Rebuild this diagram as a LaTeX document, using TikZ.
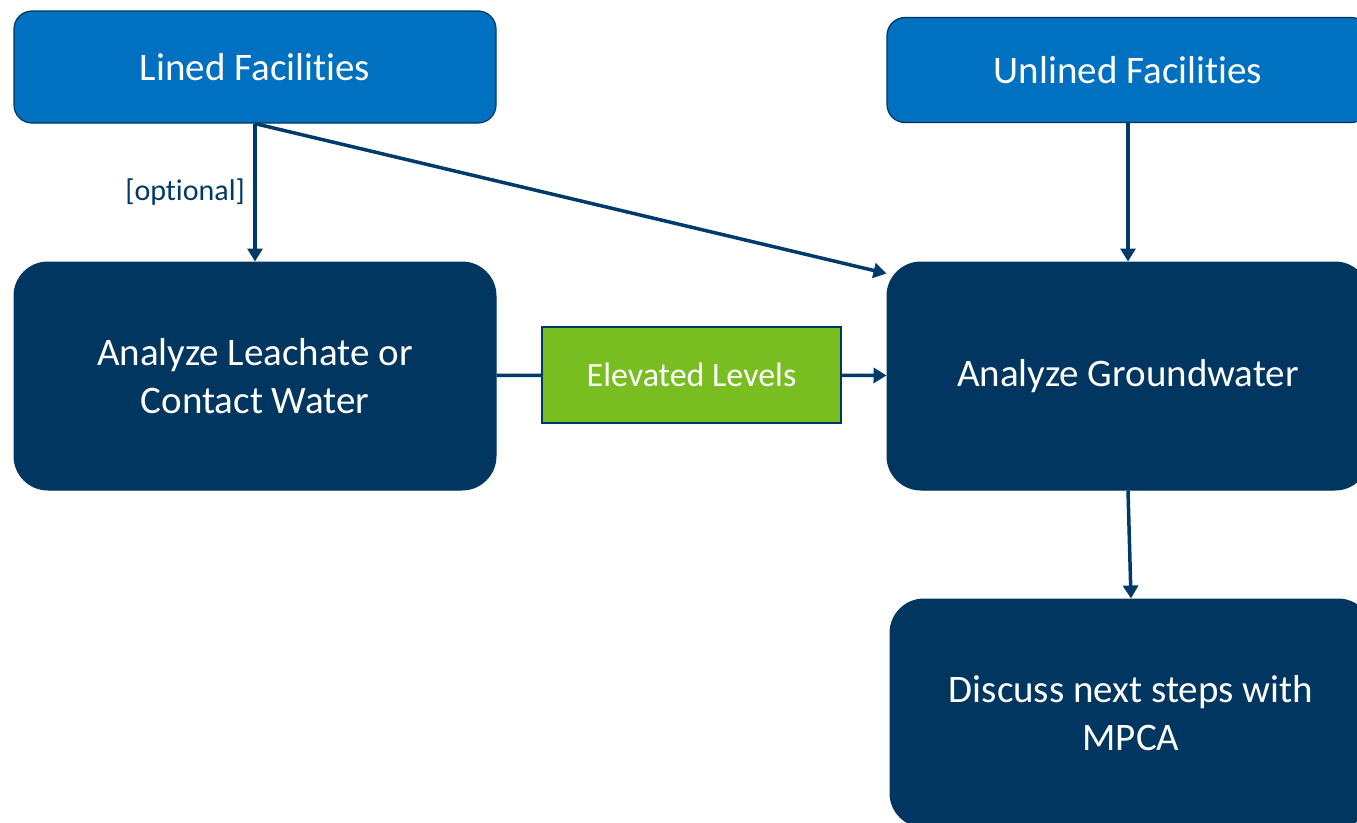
\documentclass[tikz,border=0pt]{standalone}
\usepackage{fontspec}
\setmainfont{Carlito}[Ligatures=NoCommon]
\usetikzlibrary{arrows.meta}
\definecolor{lined}{RGB}{0,112,192}
\definecolor{navy}{RGB}{0,54,96}
\definecolor{flag}{RGB}{120,190,32}
\definecolor{wire}{RGB}{0,58,107}

\tikzset{
  source/.style={draw=navy,line width=1.2pt,fill=lined,rounded corners=18pt,text=white,
    minimum width=482pt,minimum height=112pt,font=\fontsize{39}{47}\selectfont},
  task/.style={draw=navy,line width=1pt,fill=navy,rounded corners=34pt,text=white,align=center,
    minimum width=482pt,minimum height=228pt,font=\fontsize{39}{48}\selectfont},
  flagbox/.style={draw=navy,line width=1.2pt,fill=flag,text=white,
    minimum width=299pt,minimum height=96pt,font=\fontsize{34}{40}\selectfont},
  link/.style={color=wire,line width=3.5pt}
}

\begin{document}
\begin{tikzpicture}[x=1pt,y=-1pt]
\useasboundingbox (0,0) rectangle (1357,822);
\clip (0,0) rectangle (1357,822);
  \node[source] (lined) at (255,67) {Lined Facilities};
  \node[source,minimum height=105pt] (unlined) at (1128,70) {Unlined Facilities};
  \node[task] (leachate) at (255,376) {Analyze Leachate or\\Contact Water};
  \node[flagbox] (elevated) at (691.5,375) {Elevated Levels};
  \node[task] (ground) at (1128,376) {Analyze Groundwater};
  \node[task] (discuss) at (1131,713) {Discuss next steps with\\MPCA};
  \draw[link] (leachate) -- (elevated);
  \path[link,-{Triangle[length=13pt,width=15pt]}]
    (lined) edge node [left,xshift=-5pt,text=wire,font=\fontsize{30}{36}\selectfont] {[optional]} (leachate)
    (lined.south) edge ([yshift=-12pt]ground.north west)
    (unlined) edge (ground)
    (elevated) edge (ground)
    (ground.south) edge (discuss.north);
\end{tikzpicture}
\end{document}
